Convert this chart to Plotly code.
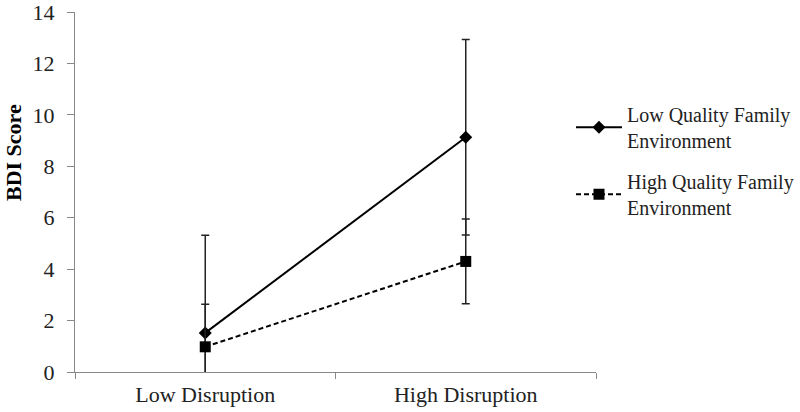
import plotly.graph_objects as go

categories = ["Low Disruption", "High Disruption"]
low_quality = [1.52, 9.13]
low_quality_err = [3.8, 3.8]
high_quality = [0.98, 4.30]
high_quality_err = [1.65, 1.65]
series_names = ["Low Quality Family<br>Environment", "High Quality Family<br>Environment"]
y_ticks = [0, 2, 4, 6, 8, 10, 12, 14]
y_title = "BDI Score"

FONT = "Liberation Serif, Times New Roman, serif"

fig = go.Figure()
fig.add_trace(go.Scatter(
    x=categories, y=low_quality, name=series_names[0], mode="lines+markers",
    line=dict(color="black", width=2),
    marker=dict(symbol="diamond", size=10, color="black"),
    error_y=dict(type="data", array=low_quality_err, visible=True,
                 color="#222", thickness=1.5, width=4),
    legendgroup="a",
))
fig.add_trace(go.Scatter(
    x=categories, y=high_quality, name=series_names[1], mode="lines+markers",
    line=dict(color="black", width=2, dash="5px,3px"),
    marker=dict(symbol="square", size=11, color="black"),
    error_y=dict(type="data", array=high_quality_err, visible=True,
                 color="#222", thickness=1.5, width=4),
    legendgroup="b",
))

fig.add_annotation(
    text="<b>" + y_title + "</b>", textangle=-90, xref="paper", yref="paper",
    x=(13 - 75) / 521, y=(372 - 153) / 360, xanchor="center", yanchor="middle",
    showarrow=False, font=dict(family=FONT, size=22, color="black"),
)

fig.update_layout(
    width=800, height=412,
    margin=dict(l=75, r=204, t=12, b=40, autoexpand=False),
    plot_bgcolor="white", paper_bgcolor="white",
    font=dict(family=FONT, size=20, color="#222"),
    showlegend=True,
    legend=dict(x=0.952, y=0.77, xanchor="left", yanchor="top",
                font=dict(family=FONT, size=20, color="#222"),
                itemwidth=46, tracegroupgap=12, traceorder="grouped",
                bgcolor="rgba(0,0,0,0)"),
    xaxis=dict(type="category", tickson="boundaries", ticks="outside",
               ticklen=6, tickcolor="#888", showline=True, linecolor="#888",
               linewidth=1, showgrid=False, range=[-0.5, 1.5],
               ticklabelstandoff=3,
               tickfont=dict(family=FONT, size=22, color="#222")),
    yaxis=dict(range=[0, 14.0001], tickvals=y_ticks, ticks="outside", ticklen=7,
               tickcolor="#888", showline=True, linecolor="#888", linewidth=1,
               showgrid=False, zeroline=False, ticklabelstandoff=8,
               ticklabeloverflow="allow",
               tickfont=dict(family=FONT, size=22, color="#222")),
)

fig.write_html("out.html", config={"displayModeBar": False},
               post_script="document.body.style.margin='0';")
